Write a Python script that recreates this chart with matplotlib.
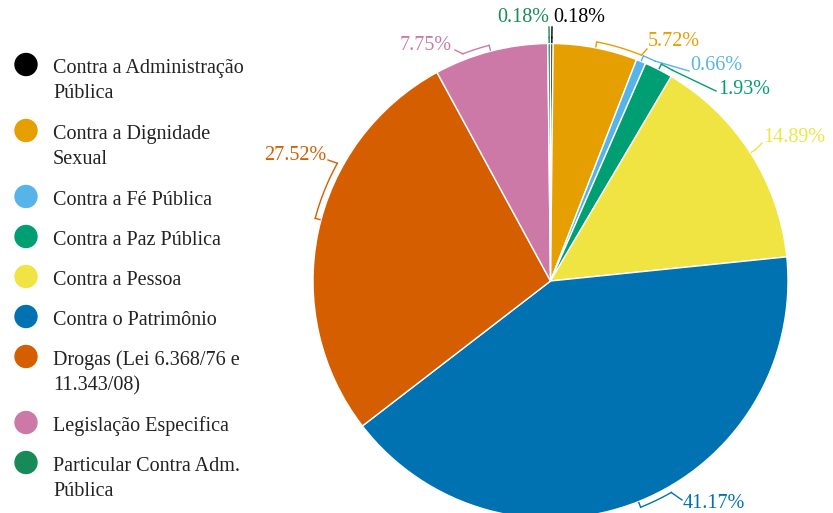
import numpy as np
import matplotlib.pyplot as plt
from matplotlib.patches import Circle

# dados
categorias = ["Contra a Administração Pública", "Contra a Dignidade Sexual",
              "Contra a Fé Pública", "Contra a Paz Pública", "Contra a Pessoa",
              "Contra o Patrimônio", "Drogas (Lei 6.368/76 e 11.343/08)",
              "Legislação Especifica", "Particular Contra Adm. Pública"]
linhas_legenda = [["Contra a Administração", "Pública"],
                  ["Contra a Dignidade", "Sexual"],
                  ["Contra a Fé Pública"],
                  ["Contra a Paz Pública"],
                  ["Contra a Pessoa"],
                  ["Contra o Patrimônio"],
                  ["Drogas (Lei 6.368/76 e", "11.343/08)"],
                  ["Legislação Especifica"],
                  ["Particular Contra Adm.", "Pública"]]
valores = [0.18, 5.72, 0.66, 1.93, 14.89, 41.17, 27.52, 7.75, 0.18]
cores = ["#000000", "#E69F00", "#56B4E9", "#009E73", "#F0E442",
         "#0072B2", "#D55E00", "#CC79A7", "#168A58"]

# posicao dos rotulos (pixels): texto x, y, alinhamento, fim da linha guia, extensao do colchete (graus)
rotulos = [(553, 18, 'left', (552, 27), 0),
           (648, 42, 'left', (647, 49), -11),
           (690, 66, 'left', (689, 71), -3),
           (718, 89, 'left', (716, 91), -3),
           (763, 137, 'left', (762, 143), 0),
           (683, 503, 'left', (682, 500), 8),
           (326, 156, 'right', (328, 160), -14),
           (452, 46, 'right', (455, 50), 6.5),
           (549, 18, 'right', (549, 27), 0)]

W, H = 833, 513
cx, cy, R = 550.5, 281, 237.5
serif = 'Liberation Serif'

fig = plt.figure(figsize=(W / 100, H / 100), dpi=100)
ax = fig.add_axes([0, 0, 1, 1])
ax.pie(valores, colors=cores, startangle=-90, counterclock=True,
       center=(cx, cy), radius=R,
       wedgeprops=dict(edgecolor='white', linewidth=1))
ax.set_xlim(0, W)
ax.set_ylim(H, 0)
ax.set_aspect('auto')
ax.axis('off')


def ponto(r, ang):
    a = np.radians(ang)
    return cx + r * np.cos(a), cy - r * np.sin(a)


# rotulos com colchete
acum = np.cumsum([0] + valores[:-1])
for v, c0, cor, (tx, ty, ha, fim, ext) in zip(valores, acum, cores, rotulos):
    meio = 90 - 360 * (c0 + v / 2) / 100
    if ext < -12:
        meio -= 3
    x0, y0 = ponto(R + 1, meio)
    x1, y1 = ponto(R + 6, meio)
    ax.plot([x0, x1], [y0, y1], color=cor, lw=1)
    angs = np.linspace(meio, meio + ext, 30)
    xs, ys = ponto(R + 6, angs)
    ax.plot(xs, ys, color=cor, lw=1)
    ax.plot([xs[-1], fim[0]], [ys[-1], fim[1]], color=cor, lw=1)
    ax.text(tx, ty, f"{v:.2f}%", ha=ha, va='center', color=cor,
            fontsize=14.5, family=serif)

# legenda
y = 73
for linhas, cor in zip(linhas_legenda, cores):
    ax.add_patch(Circle((26, y - 8.5), 11, color=cor))
    for i, t in enumerate(linhas):
        ax.text(53, y + i * 25.5, t, ha='left', va='baseline',
                fontsize=14.5, family=serif, color='#222222')
    y += len(linhas) * 26 + 14

fig.savefig('out.png', dpi=100)
